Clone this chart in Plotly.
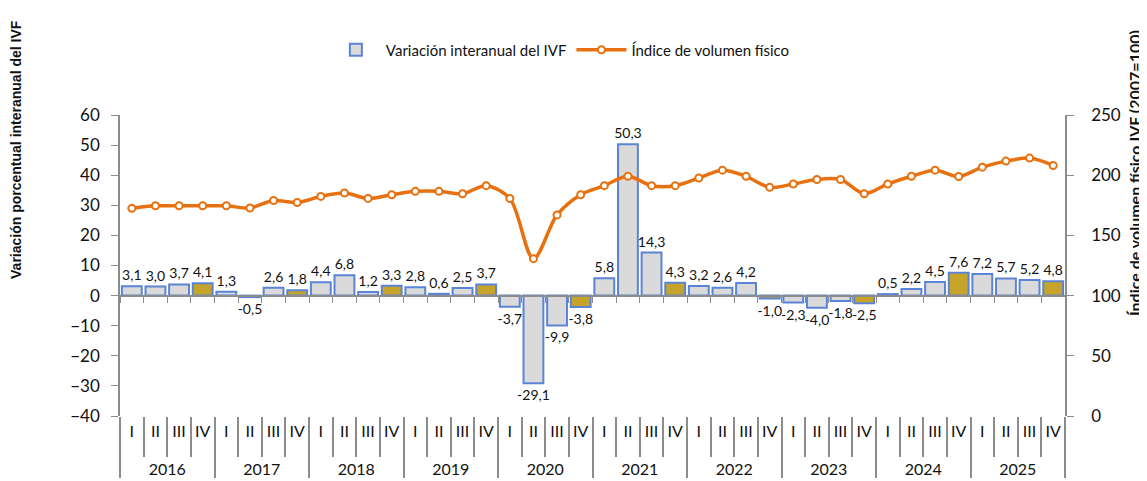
import plotly.graph_objects as go

# quarters 2016-I .. 2025-IV
years = ["2016", "2017", "2018", "2019", "2020", "2021", "2022", "2023", "2024", "2025"]
quarters = ["I", "II", "III", "IV"]

# variación interanual del IVF (%)
variacion = [
    3.1, 3.0, 3.7, 4.1,
    1.3, -0.5, 2.6, 1.8,
    4.4, 6.8, 1.2, 3.3,
    2.8, 0.6, 2.5, 3.7,
    -3.7, -29.1, -9.9, -3.8,
    5.8, 50.3, 14.3, 4.3,
    3.2, 2.6, 4.2, -1.0,
    -2.3, -4.0, -1.8, -2.5,
    0.5, 2.2, 4.5, 7.6,
    7.2, 5.7, 5.2, 4.8,
]

# índice de volumen físico (2007=100)
indice = [
    172.5, 174.6, 174.6, 174.6,
    174.6, 172.8, 179.0, 177.3,
    182.4, 185.2, 180.7, 183.8,
    186.6, 186.6, 184.6, 191.3,
    180.7, 130.7, 167.0, 183.8,
    191.3, 199.1, 191.3, 191.3,
    197.7, 204.2, 199.1, 189.9,
    192.7, 196.4, 196.4, 184.6,
    192.7, 199.1, 204.2, 198.9,
    206.7, 211.7, 214.2, 208.1,
]

ORANGE = "#E8710F"
BLUE_EDGE = "#5B84D6"
SILVER = "#DADADA"
GOLD = "#C6A42A"
AXIS = "#8C8C8C"
FONT = "Lato"

# extra line break pushes the year row down, like the reference
x_years = ["<br>" + y for y in years for _ in quarters]
x_quarters = [q for _ in years for q in quarters]
x_flat = [f"{y} {q}" for y in years for q in quarters]
bar_colors = [GOLD if q == "IV" else SILVER for q in x_quarters]

fig = go.Figure()

fig.add_trace(go.Bar(
    x=[x_years, x_quarters],
    y=variacion,
    name="Variación interanual del IVF",
    marker=dict(color=bar_colors, line=dict(color=BLUE_EDGE, width=2)),
    texttemplate="%{y:.1f}",
    textposition="outside",
    constraintext="none",
    textfont=dict(size=14, color="#111111", family=FONT),
    cliponaxis=False,
))

fig.add_trace(go.Scatter(
    x=x_flat,
    y=indice,
    name="Índice de volumen físico",
    mode="lines+markers",
    line=dict(color=ORANGE, width=3.5, shape="spline", smoothing=0.9),
    marker=dict(symbol="circle", size=7, color="white", line=dict(color=ORANGE, width=2)),
    xaxis="x2",
    yaxis="y2",
))

fig.update_layout(
    width=1147,
    height=481,
    margin=dict(l=112, r=90, t=107, b=73),
    paper_bgcolor="white",
    plot_bgcolor="white",
    separators=",.",
    font=dict(family=FONT, color="#111111"),
    bargap=0.16,
    showlegend=True,
    legend=dict(
        orientation="h",
        x=0.466, xanchor="center",
        y=1.216, yanchor="middle",
        font=dict(size=15, family=FONT),
        itemwidth=50,
    ),
    xaxis=dict(
        type="multicategory",
        range=[-0.5, 39.5],
        showline=False,
        showgrid=False,
        ticks="outside",
        ticklen=40,
        tickcolor=AXIS,
        tickwidth=1.5,
        tickangle=0,
        ticklabelstandoff=4,
        showdividers=True,
        dividercolor=AXIS,
        dividerwidth=1.5,
        tickfont=dict(size=16, family=FONT),
    ),
    xaxis2=dict(
        type="category",
        overlaying="x",
        anchor="free",
        position=0.4,
        range=[-0.5, 39.5],
        tickson="boundaries",
        ticks="outside",
        ticklen=7,
        tickcolor=AXIS,
        showline=True,
        linecolor=AXIS,
        linewidth=1.5,
        showticklabels=False,
        showgrid=False,
    ),
    yaxis=dict(
        range=[-40, 60],
        dtick=10,
        showgrid=False,
        zeroline=False,
        showline=True,
        linecolor=AXIS,
        linewidth=1.5,
        ticks="outside",
        ticklen=7,
        tickcolor=AXIS,
        tickfont=dict(size=17, family=FONT),
        ticklabelstandoff=8,
    ),
    yaxis2=dict(
        range=[0, 250],
        dtick=50,
        overlaying="y",
        anchor="x2",
        side="right",
        showgrid=False,
        zeroline=False,
        showline=True,
        linecolor=AXIS,
        linewidth=1.5,
        ticks="outside",
        ticklen=7,
        tickcolor=AXIS,
        tickfont=dict(size=17, family=FONT),
        ticklabelstandoff=14,
    ),
    annotations=[
        dict(
            text="<b>Variación porcentual interanual del IVF</b>",
            xref="paper", yref="paper",
            x=-0.110, y=0.884, xanchor="center", yanchor="middle",
            textangle=-90, showarrow=False,
            font=dict(size=14, family="Liberation Sans", color="#111111"),
        ),
        dict(
            text="<b>Índice de volumen físico IVF (2007=100)</b>",
            xref="paper", yref="paper",
            x=1.073, y=0.807, xanchor="center", yanchor="middle",
            textangle=-90, showarrow=False,
            font=dict(size=16, family=FONT, color="#111111"),
        ),
        dict(
            text="(Variación porcentual interanual e índice 2007=100)",
            xref="paper", yref="paper",
            x=0.488, y=1.345, yanchor="bottom",
            showarrow=False,
            font=dict(size=14, family=FONT, color="#333333"),
        ),
    ],
)

fig.write_html("out.html")
